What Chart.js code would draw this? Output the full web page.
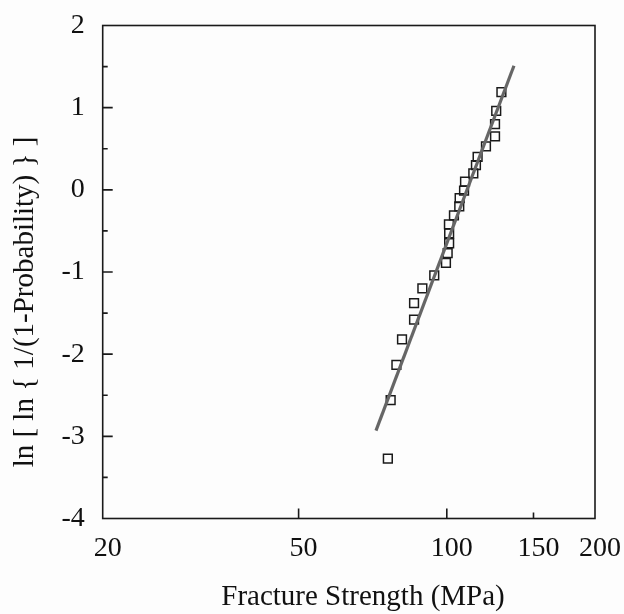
<!DOCTYPE html>
<html>
<head>
<meta charset="utf-8">
<script src="https://cdn.jsdelivr.net/npm/chart.js@4/dist/chart.umd.min.js"></script>
<style>
    html, body { margin: 0; padding: 0; background: #fdfdfd; }
    #wrap { width: 624px; height: 614px; }
</style>
</head>
<body>
<div id="wrap"><canvas id="weibullChart"></canvas></div>
<script>
let strength = [129.1, 126.0, 125.3, 125.3, 120.1, 115.5, 114.6, 113.2, 108.9, 108.4, 106.2, 106.0, 103.4,
    101.0, 101.1, 101.1, 100.4, 99.6, 94.3, 89.2, 85.8, 85.8, 81.1, 79.0, 76.9, 75.9];
let lnln = [1.19, 0.96, 0.80, 0.65, 0.53, 0.40, 0.30, 0.20, 0.10, -0.01, -0.10, -0.20, -0.31,
    -0.42, -0.53, -0.65, -0.77, -0.89, -1.04, -1.20, -1.38, -1.58, -1.82, -2.13, -2.56, -3.27];
let fitStrength = [71.8, 136.9];
let fitLnln = [-2.93, 1.51];
let xTicks = [20, 50, 100, 150, 200];
let xMajor = [50, 100];
let xMinor = [150];
let yTitle = 'ln [ ln { 1/(1-Probability) } ]';
let xTitle = 'Fracture Strength (MPa)';

function toPoints(xs, ys) {
    let data = [];
    for (let i = 0; i < xs.length; i++) {
        data.push({ x: xs[i], y: ys[i] });
    }
    return data;
}

const frame = {
    id: 'frame',
    afterDraw: function (chart) {
        let ctx = chart.ctx;
        let a = chart.chartArea;
        let xs = chart.scales.x;
        let ys = chart.scales.y;
        ctx.save();
        ctx.strokeStyle = '#1a1a1a';
        ctx.lineWidth = 1.6;
        ctx.strokeRect(a.left, a.top, a.right - a.left, a.bottom - a.top);
        ctx.beginPath();
        for (let v = -3.5; v < 2; v += 0.5) {
            let py = ys.getPixelForValue(v);
            let len = Number.isInteger(v) ? 10 : 5;
            ctx.moveTo(a.left, py);
            ctx.lineTo(a.left + len, py);
        }
        xMajor.forEach(function (v) {
            let px = xs.getPixelForValue(v);
            ctx.moveTo(px, a.bottom);
            ctx.lineTo(px, a.bottom - 10);
        });
        xMinor.forEach(function (v) {
            let px = xs.getPixelForValue(v);
            ctx.moveTo(px, a.bottom);
            ctx.lineTo(px, a.bottom - 6);
        });
        ctx.stroke();

        ctx.fillStyle = '#111';
        ctx.font = '29px "Liberation Serif"';
        ctx.textAlign = 'center';
        ctx.textBaseline = 'middle';
        ctx.fillText(xTitle, 363, 597);

        ctx.translate(25, 302);
        ctx.rotate(-Math.PI / 2);
        ctx.fillText(yTitle, 0, 0);
        ctx.restore();
    }
};

function createChart(ctx) {
    return new Chart(ctx, {
        type: 'scatter',
        data: {
            datasets: [{
                label: 'Fit',
                type: 'line',
                data: toPoints(fitStrength, fitLnln),
                borderColor: '#666666',
                borderWidth: 3.2,
                pointRadius: 0,
                fill: false
            }, {
                label: 'Data',
                data: toPoints(strength, lnln),
                pointStyle: 'rect',
                pointRadius: 6.2,
                pointBorderWidth: 1.5,
                pointBorderColor: '#1a1a1a',
                pointBackgroundColor: 'rgba(0,0,0,0)'
            }]
        },
        options: {
            animation: false,
            responsive: true,
            maintainAspectRatio: false,
            layout: {
                padding: { top: 25.5, right: 29, bottom: 0, left: 0 }
            },
            plugins: {
                legend: { display: false },
                tooltip: { enabled: false }
            },
            scales: {
                x: {
                    type: 'logarithmic',
                    min: 20,
                    max: 200,
                    afterBuildTicks: function (scale) {
                        scale.ticks = xTicks.map(function (v) { return { value: v }; });
                    },
                    afterFit: function (scale) {
                        scale.height = 95.5;
                        scale.paddingLeft = 0;
                        scale.paddingRight = 0;
                    },
                    grid: { display: false, drawTicks: false },
                    border: { display: false },
                    ticks: {
                        autoSkip: false,
                        maxRotation: 0,
                        padding: 13,
                        labelOffset: 5,
                        color: '#111',
                        font: { family: 'Liberation Serif', size: 28 },
                        callback: function (value) { return String(value); }
                    }
                },
                y: {
                    min: -4,
                    max: 2,
                    afterFit: function (scale) {
                        scale.width = 102.7;
                        scale.paddingTop = 0;
                        scale.paddingBottom = 0;
                    },
                    grid: { display: false, drawTicks: false },
                    border: { display: false },
                    ticks: {
                        stepSize: 1,
                        padding: 18,
                        color: '#111',
                        font: { family: 'Liberation Serif', size: 28 }
                    }
                }
            }
        },
        plugins: [frame]
    });
}

createChart(document.getElementById('weibullChart').getContext('2d'));
</script>
</body>
</html>
